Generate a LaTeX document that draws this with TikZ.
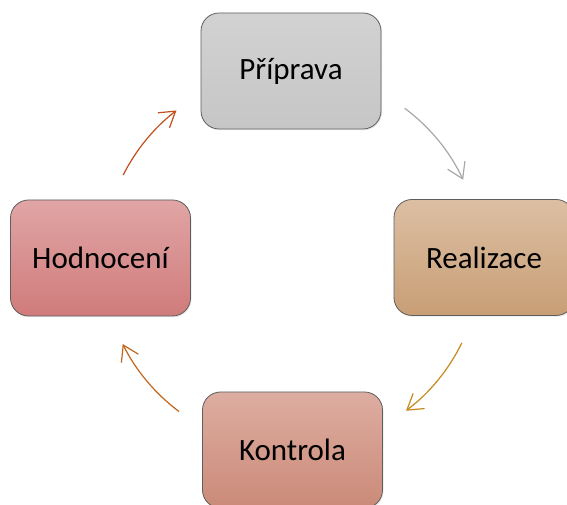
\documentclass[tikz,border=0pt]{standalone}
\usepackage{fontspec}
\setmainfont{Carlito}
\usetikzlibrary{arrows.meta,shadows}

\definecolor{boxline}{HTML}{5E5E5E}
\definecolor{grayTop}{HTML}{D2D2D2}
\definecolor{grayBot}{HTML}{C6C6C6}
\definecolor{tanTop}{HTML}{DCBFA3}
\definecolor{tanBot}{HTML}{C89E75}
\definecolor{roseTop}{HTML}{E1A5A5}
\definecolor{roseBot}{HTML}{D07B7B}
\definecolor{salmonTop}{HTML}{DDADA1}
\definecolor{salmonBot}{HTML}{CB8A78}
\definecolor{arrGray}{HTML}{A8A8A8}
\definecolor{arrGold}{HTML}{C48A1E}
\definecolor{arrOrange}{HTML}{C2661C}
\definecolor{arrRust}{HTML}{C0501E}

\tikzset{
  phase/.style={draw=boxline, line width=0.8pt, rounded corners=18pt,
    minimum width=180pt, minimum height=116pt, inner sep=0pt,
    font=\fontsize{31}{37}\selectfont, text=black,
    drop shadow={opacity=0.18, shadow xshift=1pt, shadow yshift=-1.2pt}},
  cyc/.style={line width=1.2pt, -{Straight Barb[length=15pt,width=19pt,line width=1.2pt]}}
}

\begin{document}
\begin{tikzpicture}[x=1pt,y=1pt]
  \clip (0,0) rectangle (567,505);
  \fill[white] (0,0) rectangle (567,505);

  % the four phases of the cycle
  \node[phase, top color=grayTop, bottom color=grayBot] (prip) at (291,434) {Příprava};
  \node[phase, top color=tanTop, bottom color=tanBot] (real) at (484,247.5) {Realizace};
  \node[phase, top color=salmonTop, bottom color=salmonBot] (kont) at (292.5,55) {Kontrola};
  \node[phase, top color=roseTop, bottom color=roseBot] (hodn) at (100.5,247) {Hodnocení};

  % curved arrows on a common circle
  \coordinate (ctr) at (292,245);
  \path (ctr) ++(53.4:189) coordinate (a1);
  \path (ctr) ++(-26:189) coordinate (a2);
  \path (ctr) ++(-126.7:189) coordinate (a3);
  \path (ctr) ++(153.3:189) coordinate (a4);

  \draw[cyc, arrGray] (a1) arc[start angle=53.4, end angle=25.1, radius=189];
  \draw[cyc, arrGold] (a2) arc[start angle=-26, end angle=-52.9, radius=189];
  \draw[cyc, arrOrange] (a3) arc[start angle=-126.7, end angle=-153.6, radius=189];
  \draw[cyc, arrRust] (a4) arc[start angle=153.3, end angle=127.7, radius=189];
\end{tikzpicture}
\end{document}
